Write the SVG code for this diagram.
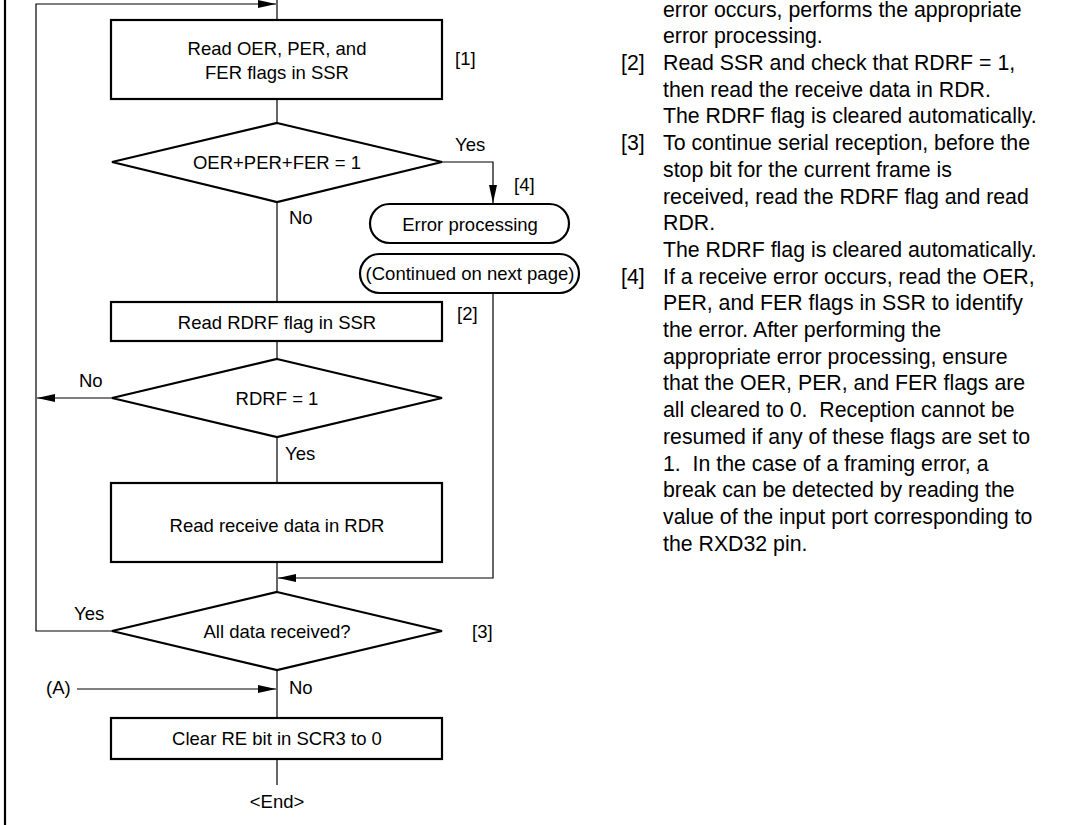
<svg xmlns="http://www.w3.org/2000/svg" width="1068" height="825" viewBox="0 0 1068 825">
<defs>
<style>
.box{fill:#fff;stroke:#000;stroke-width:2.2}
.ln{fill:none;stroke:#000;stroke-width:1.2}
.t{font-family:"Liberation Sans",Arial,sans-serif;font-size:18.5px;fill:#000}
.c{text-anchor:middle}
.n{font-family:"Liberation Sans",Arial,sans-serif;font-size:21.3px;fill:#000;white-space:pre}
</style>
<marker id="arr" viewBox="0 0 18 8" refX="18" refY="4" markerWidth="18" markerHeight="8" orient="auto" markerUnits="userSpaceOnUse"><path d="M0,0 L18,4 L0,8 z" fill="#000"/></marker>
</defs>
<rect width="1068" height="825" fill="#fff"/>
<line x1="5" y1="0" x2="5" y2="825" stroke="#000" stroke-width="2.2"/>
<g id="connectors">
<line class="ln" x1="277" y1="0" x2="277" y2="20"/>
<polyline class="ln" points="112,631 36,631 36,4 276,4" marker-end="url(#arr)"/>
<line class="ln" x1="277" y1="99" x2="277" y2="123"/>
<polyline class="ln" points="442,162 493,162 493,203" marker-end="url(#arr)"/>
<line class="ln" x1="277" y1="202" x2="277" y2="302"/>
<line class="ln" x1="277" y1="341" x2="277" y2="359"/>
<line class="ln" x1="112" y1="398" x2="37" y2="398" marker-end="url(#arr)"/>
<line class="ln" x1="277" y1="437" x2="277" y2="483"/>
<line class="ln" x1="277" y1="562" x2="277" y2="592"/>
<polyline class="ln" points="493,293 493,578 278,578" marker-end="url(#arr)"/>
<line class="ln" x1="277" y1="670" x2="277" y2="718"/>
<line class="ln" x1="77" y1="689" x2="276" y2="689" marker-end="url(#arr)"/>
<line class="ln" x1="277" y1="759" x2="277" y2="785"/>
</g>
<g id="n1">
<rect class="box" x="111" y="20" width="331" height="79"/>
<text class="t c" x="277" y="54.5">Read OER, PER, and</text>
<text class="t c" x="277" y="78.5">FER flags in SSR</text>
<text class="t" x="455" y="65">[1]</text>
</g>
<g id="d1">
<polygon class="box" points="277,123 442,162 277,202 112,162"/>
<text class="t c" x="277" y="168.5">OER+PER+FER = 1</text>
<text class="t" x="455" y="150.5">Yes</text>
<text class="t" x="289" y="223.5">No</text>
<text class="t" x="514" y="190.5">[4]</text>
</g>
<g id="err">
<rect class="box" x="370" y="204" width="199" height="39" rx="19.5"/>
<text class="t c" x="470" y="230.5">Error processing</text>
</g>
<g id="cont">
<rect class="box" x="360" y="254" width="219" height="39" rx="19.5"/>
<text class="t c" x="470" y="280">(Continued on next page)</text>
</g>
<g id="n2">
<rect class="box" x="111" y="302" width="331" height="39"/>
<text class="t c" x="277" y="328.5">Read RDRF flag in SSR</text>
<text class="t" x="457" y="319.5">[2]</text>
</g>
<g id="d2">
<polygon class="box" points="277,359 442,398 277,437 112,398"/>
<text class="t c" x="277" y="404.5">RDRF = 1</text>
<text class="t" x="79" y="386.5">No</text>
<text class="t" x="285" y="459.5">Yes</text>
</g>
<g id="n3">
<rect class="box" x="111" y="483" width="331" height="79"/>
<text class="t c" x="277" y="531.5">Read receive data in RDR</text>
</g>
<g id="d3">
<polygon class="box" points="277,592 442,631 277,670 112,631"/>
<text class="t c" x="277" y="637.5">All data received?</text>
<text class="t" x="74" y="619.5">Yes</text>
<text class="t" x="289" y="693.5">No</text>
<text class="t" x="472" y="637.5">[3]</text>
</g>
<g id="a">
<text class="t" x="46" y="693.5">(A)</text>
</g>
<g id="n4">
<rect class="box" x="111" y="718" width="331" height="41"/>
<text class="t c" x="277" y="744.5">Clear RE bit in SCR3 to 0</text>
</g>
<g id="end">
<text class="t c" x="277" y="807.5">&lt;End&gt;</text>
</g>
<g id="notes">
<text class="n" x="663" y="17">error occurs, performs the appropriate</text>
<text class="n" x="663" y="43.4">error processing.</text>
<text class="n" x="621" y="70">[2]</text>
<text class="n" x="663" y="70">Read SSR and check that RDRF = 1,</text>
<text class="n" x="663" y="96.7">then read the receive data in RDR.</text>
<text class="n" x="663" y="123.4">The RDRF flag is cleared automatically.</text>
<text class="n" x="621" y="150.1">[3]</text>
<text class="n" x="663" y="150.1">To continue serial reception, before the</text>
<text class="n" x="663" y="176.8">stop bit for the current frame is</text>
<text class="n" x="663" y="203.5">received, read the RDRF flag and read</text>
<text class="n" x="663" y="230.2">RDR.</text>
<text class="n" x="663" y="256.9">The RDRF flag is cleared automatically.</text>
<text class="n" x="621" y="283.6">[4]</text>
<text class="n" x="663" y="283.6">If a receive error occurs, read the OER,</text>
<text class="n" x="663" y="310.3">PER, and FER flags in SSR to identify</text>
<text class="n" x="663" y="337">the error. After performing the</text>
<text class="n" x="663" y="363.7">appropriate error processing, ensure</text>
<text class="n" x="663" y="390.4">that the OER, PER, and FER flags are</text>
<text class="n" x="663" y="417.1">all cleared to 0.  Reception cannot be</text>
<text class="n" x="663" y="443.8">resumed if any of these flags are set to</text>
<text class="n" x="663" y="470.5">1.  In the case of a framing error, a</text>
<text class="n" x="663" y="497.2">break can be detected by reading the</text>
<text class="n" x="663" y="523.9">value of the input port corresponding to</text>
<text class="n" x="663" y="550.6">the RXD32 pin.</text>
</g>
</svg>
